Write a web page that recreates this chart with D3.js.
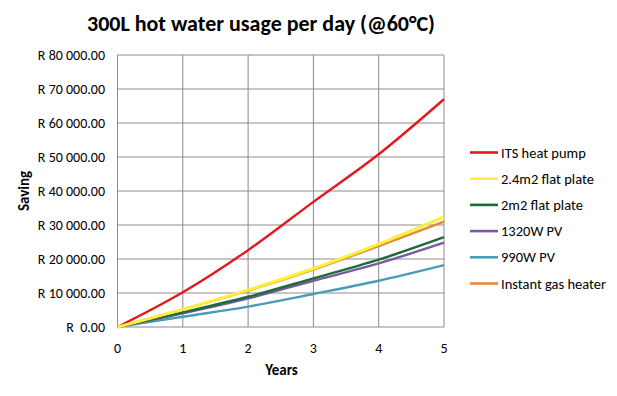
<!DOCTYPE html>
<html><head><meta charset="utf-8">
<script src="https://cdn.jsdelivr.net/npm/d3@7"></script>
<style>body{margin:0;background:#fff}svg{display:block}text{font-family:Carlito,"Open Sans",sans-serif;white-space:pre}</style>
</head><body>
<svg id="c" width="617" height="396"></svg>
<script>
const years = [0, 1, 2, 3, 4, 5];
const seriesNames = ["ITS heat pump", "2.4m2 flat plate", "2m2 flat plate", "1320W PV", "990W PV", "Instant gas heater"];
const seriesColors = ["#e3191c", "#ffef3a", "#1e6b3a", "#7a5aa0", "#4a9cb5", "#e08a3c"];
const itsHeatPump   = [0, 10200, 22600, 36800, 50800, 67000];
const flat24        = [0, 5200, 10900, 17200, 24400, 32400];
const flat2         = [0, 4300, 8900, 14300, 19800, 26400];
const pv1320        = [0, 4000, 8400, 13600, 18700, 24800];
const pv990         = [0, 3000, 6000, 9700, 13600, 18200];
const gasHeater     = [0, 5200, 10700, 16900, 23800, 31000];
const yTicks = [0, 10000, 20000, 30000, 40000, 50000, 60000, 70000, 80000];
const yTickLabels = ["R  0.00", "R 10 000.00", "R 20 000.00", "R 30 000.00", "R 40 000.00", "R 50 000.00", "R 60 000.00", "R 70 000.00", "R 80 000.00"];
const title = "300L hot water usage per day (@60°C)";

const seriesValues = [itsHeatPump, flat24, flat2, pv1320, pv990, gasHeater];
const drawOrder = [0, 4, 3, 2, 5, 1];

const svg = d3.select("#c");
const L = 117.5, R = 444, T = 55, B = 327;
const x = d3.scaleLinear().domain([0, 5]).range([L, R]);
const y = d3.scaleLinear().domain([0, 80000]).range([B, T]);

svg.append("text").attr("x", 261).attr("y", 31).attr("text-anchor", "middle")
  .attr("font-size", 22).attr("font-weight", "bold").attr("fill", "#000").text(title);

const g = svg.append("g");
g.selectAll(".hg").data(yTicks).join("line")
  .attr("x1", L).attr("x2", R).attr("y1", d => y(d)).attr("y2", d => y(d))
  .attr("stroke", "#8c8c8c").attr("stroke-width", 1);
g.selectAll(".vg").data(years).join("line")
  .attr("y1", T).attr("y2", B).attr("x1", d => x(d)).attr("x2", d => x(d))
  .attr("stroke", "#8c8c8c").attr("stroke-width", 1);

svg.selectAll(".yl").data(yTicks).join("text")
  .attr("x", 105).attr("y", d => y(d) + 4.5).attr("text-anchor", "end")
  .attr("font-size", 14).attr("fill", "#000").text((d, i) => yTickLabels[i]);
svg.selectAll(".xl").data(years).join("text")
  .attr("x", d => x(d)).attr("y", 352.5).attr("text-anchor", "middle")
  .attr("font-size", 14).attr("fill", "#000").text(d => d);
svg.append("text").attr("x", 281.5).attr("y", 375).attr("text-anchor", "middle")
  .attr("font-size", 15).attr("font-weight", "bold").text("Years");
svg.append("text").attr("transform", "translate(29,191) rotate(-90)").attr("text-anchor", "middle")
  .attr("font-size", 15).attr("font-weight", "bold").text("Saving");

const line = d3.line().x((d, i) => x(years[i])).y(d => y(d)).curve(d3.curveMonotoneX);
drawOrder.forEach(k => {
  svg.append("path").attr("d", line(seriesValues[k])).attr("fill", "none")
    .attr("stroke", seriesColors[k]).attr("stroke-width", k === 1 ? 3 : 2.4)
    .attr("stroke-linejoin", "round");
});

const lg = svg.append("g");
seriesNames.forEach((n, i) => {
  const yy = 152.5 + i * 26.2;
  lg.append("line").attr("x1", 470).attr("x2", 498).attr("y1", yy).attr("y2", yy)
    .attr("stroke", seriesColors[i]).attr("stroke-width", 2.6);
  lg.append("text").attr("x", 501).attr("y", yy + 5).attr("font-size", 14.5).text(n);
});
</script>
</body></html>
